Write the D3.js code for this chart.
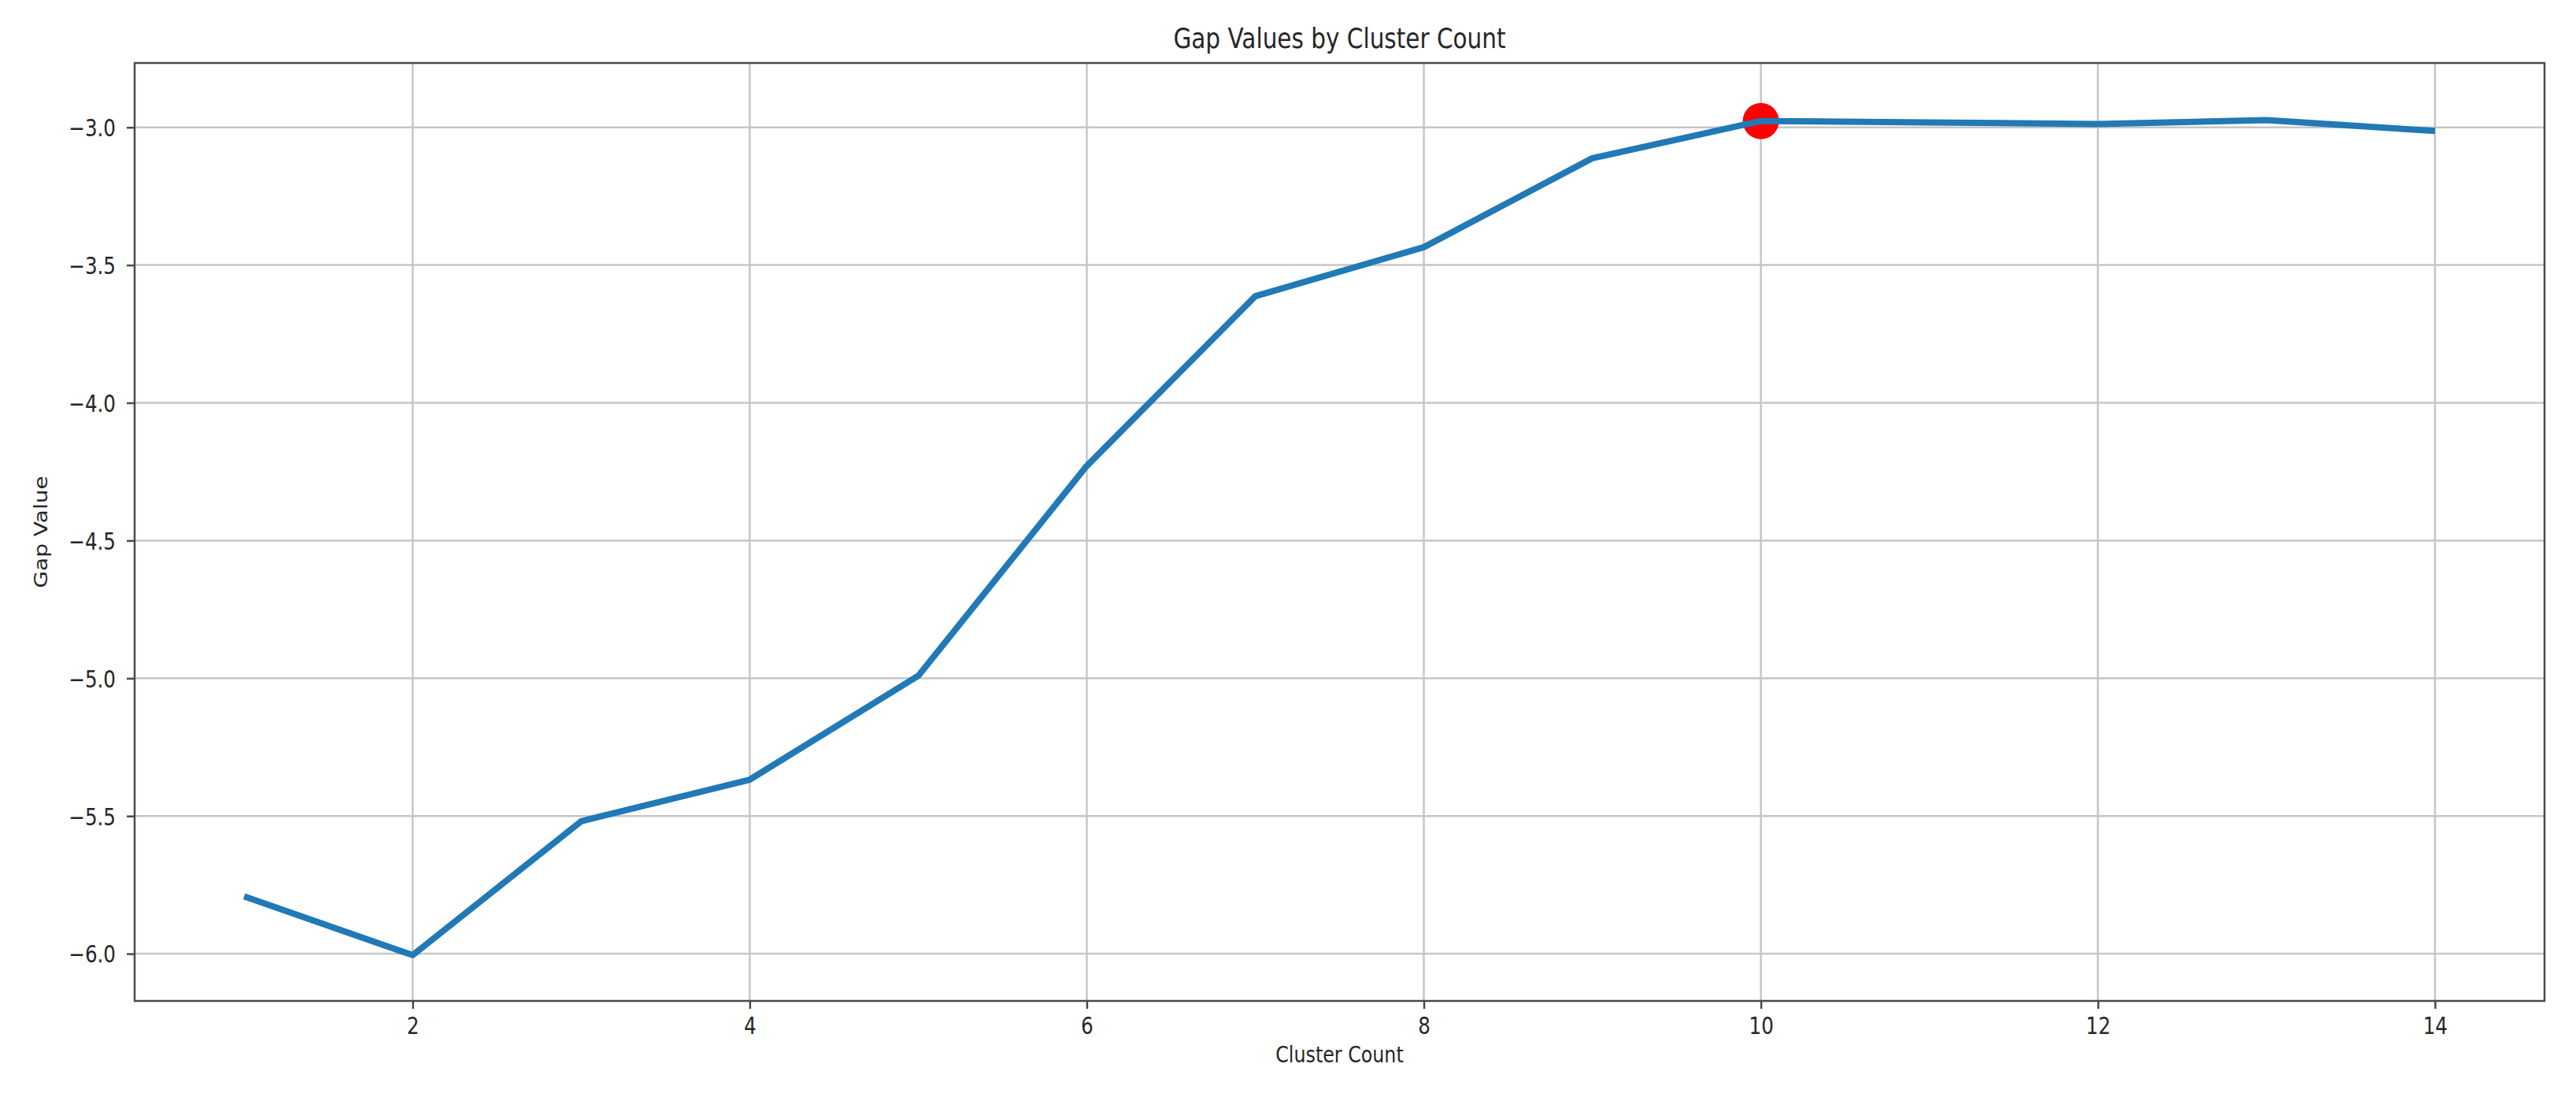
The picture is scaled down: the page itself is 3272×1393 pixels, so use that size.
<!DOCTYPE html>
<html>
<head>
<meta charset="utf-8">
<script src="https://cdn.jsdelivr.net/npm/d3@7"></script>
<style>
  html, body { margin: 0; padding: 0; background: #ffffff; }
  svg { display: block; }
  text { font-family: "DejaVu Sans", sans-serif; fill: #262626; }
</style>
</head>
<body>
<svg id="chart" width="3272" height="1393"></svg>
<script>
// ---- data ----
const clusterCounts = [1, 2, 3, 4, 5, 6, 7, 8, 9, 10, 11, 12, 13, 14];
const gapValues = [-5.792, -6.005, -5.519, -5.368, -4.991, -4.229, -3.613, -3.435, -3.112, -2.977, -2.982, -2.988, -2.974, -3.013];
const optimalCount = 10;
const xTickValues = [2, 4, 6, 8, 10, 12, 14];
const yTickValues = [-6.0, -5.5, -5.0, -4.5, -4.0, -3.5, -3.0];
const titleText = "Gap Values by Cluster Count";
const xLabelText = "Cluster Count";
const yLabelText = "Gap Value";

// ---- layout ----
const W = 3272, H = 1393;
const plot = { left: 171, right: 3232, top: 80, bottom: 1271 };
const squeeze = 0.82;

const svg = d3.select("#chart");

const x = d3.scaleLinear().domain([0.35, 14.65]).range([plot.left, plot.right]);
const y = d3.scaleLinear().domain([-6.1713, -2.7664]).range([plot.bottom, plot.top]);

const fmt = v => d3.format(".1f")(v).replace("-", "\u2212");

// gridlines
const grid = svg.append("g").attr("class", "grid");
grid.selectAll("line.gx").data(xTickValues).enter().append("line")
  .attr("x1", d => x(d)).attr("x2", d => x(d))
  .attr("y1", plot.top).attr("y2", plot.bottom)
  .attr("stroke", "#c6c6c6").attr("stroke-width", 2.5);
grid.selectAll("line.gy").data(yTickValues).enter().append("line")
  .attr("x1", plot.left).attr("x2", plot.right)
  .attr("y1", d => y(d)).attr("y2", d => y(d))
  .attr("stroke", "#c6c6c6").attr("stroke-width", 2.5);

// optimal marker (under the line)
const optIdx = clusterCounts.indexOf(optimalCount);
svg.append("circle")
  .attr("cx", x(clusterCounts[optIdx]))
  .attr("cy", y(gapValues[optIdx]))
  .attr("r", 23)
  .attr("fill", "#ff0000");

// line
const lineGen = d3.line().x((d, i) => x(clusterCounts[i])).y(d => y(d));
svg.append("path")
  .datum(gapValues)
  .attr("d", lineGen)
  .attr("fill", "none")
  .attr("stroke", "#2179b6")
  .attr("stroke-width", 8)
  .attr("stroke-linejoin", "round")
  .attr("stroke-linecap", "butt");

// frame
svg.append("rect")
  .attr("x", plot.left).attr("y", plot.top)
  .attr("width", plot.right - plot.left).attr("height", plot.bottom - plot.top)
  .attr("fill", "none").attr("stroke", "#4a4a4a").attr("stroke-width", 2.5);

// x axis
const xAxis = svg.append("g")
  .attr("transform", `translate(0,${plot.bottom})`)
  .call(d3.axisBottom(x).tickValues(xTickValues).tickSize(10).tickFormat(d => String(d)));
xAxis.select(".domain").remove();
xAxis.selectAll(".tick line").attr("stroke", "#4a4a4a").attr("stroke-width", 2.5);
xAxis.selectAll(".tick text")
  .attr("y", null).attr("dy", null)
  .attr("transform", `translate(0,42) scale(${squeeze},1)`)
  .attr("text-anchor", "middle")
  .style("font-size", "30px").style("fill", "#262626");

// y axis
const yAxis = svg.append("g")
  .attr("transform", `translate(${plot.left},0)`)
  .call(d3.axisLeft(y).tickValues(yTickValues).tickSize(10).tickFormat(fmt));
yAxis.select(".domain").remove();
yAxis.selectAll(".tick line").attr("stroke", "#4a4a4a").attr("stroke-width", 2.5);
yAxis.selectAll(".tick text")
  .attr("x", null).attr("dy", "0.36em")
  .attr("transform", `translate(-24,0) scale(${squeeze},1)`)
  .attr("text-anchor", "end")
  .style("font-size", "30px").style("fill", "#262626");

// title
svg.append("text")
  .attr("transform", `translate(${(plot.left + plot.right) / 2},61) scale(${squeeze},1)`)
  .attr("text-anchor", "middle")
  .style("font-size", "36px")
  .text(titleText);

// x label
svg.append("text")
  .attr("transform", `translate(${(plot.left + plot.right) / 2},1349) scale(${squeeze},1)`)
  .attr("text-anchor", "middle")
  .style("font-size", "29px")
  .text(xLabelText);

// y label
svg.append("text")
  .attr("transform", `translate(60,${(plot.top + plot.bottom) / 2}) rotate(-90) scale(1,${squeeze})`)
  .attr("text-anchor", "middle")
  .style("font-size", "28px")
  .text(yLabelText);
</script>
</body>
</html>
